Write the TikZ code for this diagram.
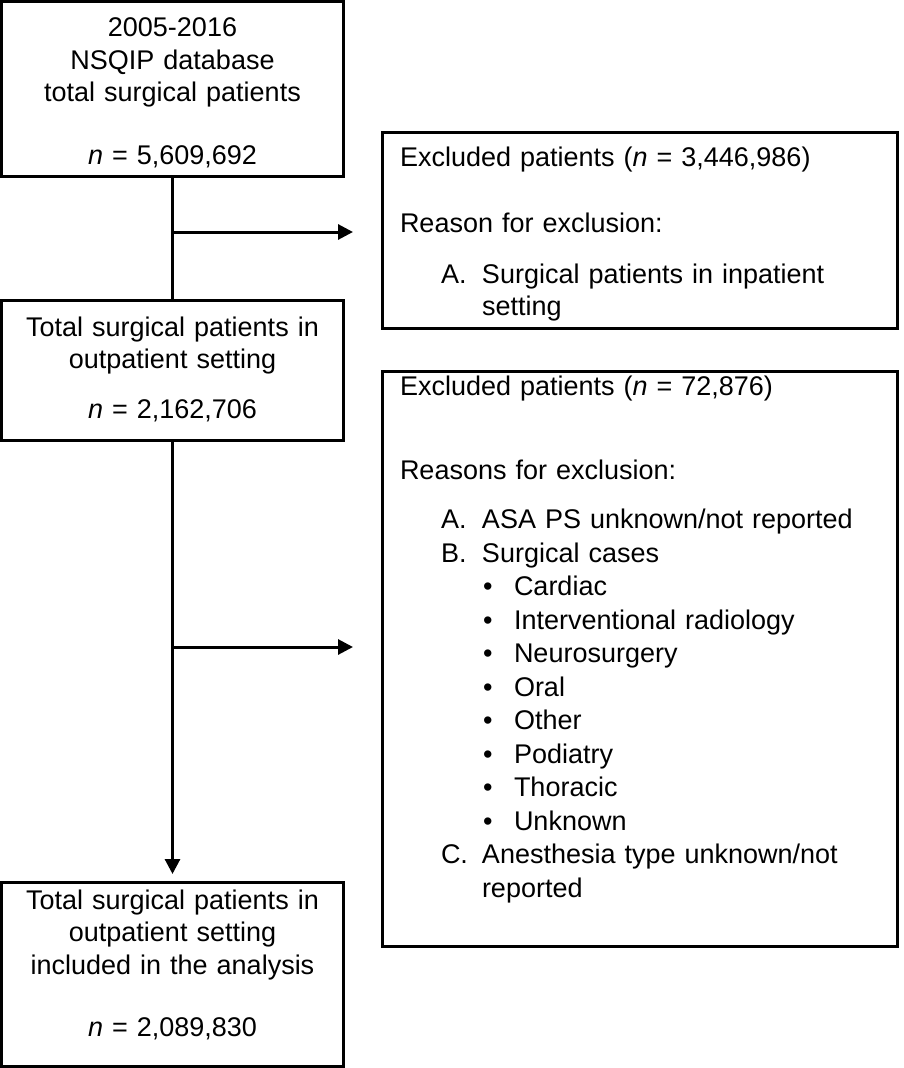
\documentclass[tikz,border=0pt]{standalone}
\usepackage{fontspec}
\setmainfont{Liberation Sans}
\usetikzlibrary{arrows.meta}

\newcommand{\exitem}[2]{\hspace*{41pt}\makebox[41pt][l]{#1}#2}
\newcommand{\exbullet}[1]{\hspace*{83pt}\makebox[31pt][l]{\textbullet}#1}

\begin{document}
\begin{tikzpicture}[x=1pt, y=-1pt,
		font=\fontsize{27}{32.5}\selectfont,
		line width=3pt,
		mainbox/.style={draw, anchor=north west, outer sep=0pt, inner xsep=0pt, inner ysep=0pt, text width=342pt, align=center},
		exclbox/.style={draw, anchor=north west, outer sep=0pt, inner xsep=18pt, inner ysep=0pt, text width=479.5pt, align=left},
		flow/.style={-{Triangle[length=15pt,width=15pt]}}]
	\useasboundingbox (0,0) rectangle (904,1068);
	% left column
	\node[mainbox, text height=35pt, text depth=139.5pt] (total) at (1.5,1.5) {2005-2016\\ NSQIP database\\ total surgical patients\\[30pt] \textit{n} = 5,609,692};
	\node[mainbox, text height=36pt, text depth=104.5pt] (outpt) at (1.5,300) {Total surgical patients in\\ outpatient setting\\[17pt] \textit{n} = 2,162,706};
	\node[mainbox, text height=27pt, text depth=157pt] (final) at (1.5,882) {Total surgical patients in\\ outpatient setting\\ included in the analysis\\[30pt] \textit{n} = 2,089,830};
	% exclusions
	\node[exclbox, text height=34.5pt, text depth=161.5pt] (excl1) at (382,132) {Excluded patients (\textit{n} = 3,446,986)\\[33pt]
		Reason for exclusion:\\[18.5pt]
		\exitem{A.}{Surgical patients in inpatient}\\
		\hspace*{82pt}setting};
	\node[exclbox, font=\fontsize{27}{33.5}\selectfont, text height=24.5pt, text depth=550.5pt] (excl2) at (382,371) {Excluded patients (\textit{n} = 72,876)\\[50.5pt]
		Reasons for exclusion:\\[15.5pt]
		\exitem{A.}{ASA PS unknown/not reported}\\
		\exitem{B.}{Surgical cases}\\
		\exbullet{Cardiac}\\
		\exbullet{Interventional radiology}\\
		\exbullet{Neurosurgery}\\
		\exbullet{Oral}\\
		\exbullet{Other}\\
		\exbullet{Podiatry}\\
		\exbullet{Thoracic}\\
		\exbullet{Unknown}\\
		\exitem{C.}{Anesthesia type unknown/not}\\
		\hspace*{82pt}reported};
	% connectors
	\coordinate (tip1) at (353,232);
	\coordinate (tip2) at (353,647);
	\draw (total.south) -- (outpt.north);
	\draw[flow] (total.south |- tip1) -- (tip1);
	\draw[flow, shorten >=8pt] (outpt.south) -- (final.north);
	\draw[flow] (outpt.south |- tip2) -- (tip2);
\end{tikzpicture}
\end{document}
